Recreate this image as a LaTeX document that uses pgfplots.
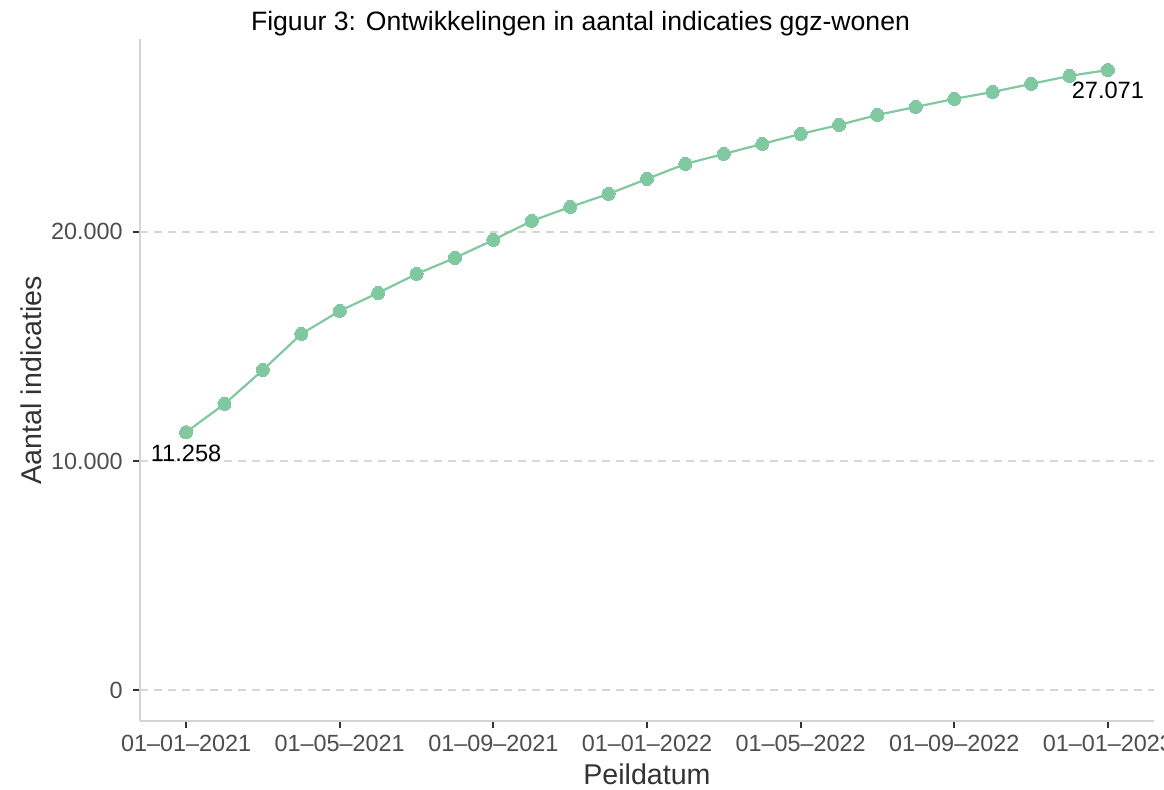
\documentclass[border=0pt]{standalone}
\usepackage{pgfplots}
\pgfplotsset{compat=1.18}
\usepackage{fontspec}
\setmainfont{Liberation Sans}
\definecolor{linegreen}{HTML}{7FC8A0}
\definecolor{axisgray}{HTML}{D4D4D4}
\definecolor{gridgray}{HTML}{D6D6D6}
\definecolor{ticklab}{HTML}{4D4D4D}
\definecolor{labcol}{HTML}{333333}

\pgfplotstableread{
x y
0 11258
1 12489
2 13974
3 15546
4 16550
5 17336
6 18166
7 18865
8 19651
9 20480
10 21092
11 21659
12 22314
13 22969
14 23406
15 23843
16 24279
17 24672
18 25109
19 25459
20 25808
21 26114
22 26463
23 26812
24 27071
}\datatable

\begin{document}
\begin{tikzpicture}
\begin{axis}[
  at={(0,0)}, anchor=south west,
  scale only axis,
  width=507pt, height=341pt,
  xmin=-1.2, xmax=25.2,
  ymin=-1353.55, ymax=28424.55,
  scaled y ticks=false, scaled x ticks=false,
  axis x line*=bottom, axis y line*=left,
  axis line style={axisgray, line width=0.8pt, -},
  tick align=outside,
  major tick length=3.5pt,
  tick style={labcol, line width=1pt},
  xtick={0,4,8,12,16,20,24},
  xticklabels={01–01–2021,01–05–2021,01–09–2021,01–01–2022,01–05–2022,01–09–2022,01–01–2023},
  ytick={0,10000,20000},
  yticklabels={0,10.000,20.000},
  ymajorgrids,
  major grid style={gridgray, line width=0.6pt, dash pattern=on 4pt off 3pt},
  ticklabel style={font=\fontsize{11.7}{14}\selectfont, text=ticklab, inner sep=0pt},
  xticklabel style={yshift=-3.5pt},
  yticklabel style={xshift=-5pt},
  xlabel={Peildatum}, ylabel={Aantal indicaties},
  label style={font=\fontsize{14.3}{17}\selectfont, text=labcol},
  xlabel style={at={(axis description cs:0.5,-0.0924)}, anchor=base},
  ylabel style={at={(axis description cs:-0.1075,0.5)}, anchor=center},
  clip=false,
]
\addplot[linegreen, line width=1.1pt, mark=*, mark size=3.25pt,
  mark options={fill=linegreen, draw=linegreen, line width=0pt}] table[x=x, y=y] {\datatable};
\node[anchor=north, inner sep=0pt, font=\fontsize{11.8}{14}\selectfont, yshift=-6pt] at (axis cs:0,11258) {11.258};
\node[anchor=north, inner sep=0pt, font=\fontsize{11.8}{14}\selectfont, yshift=-6pt] at (axis cs:24,27071) {27.071};
\end{axis}
\node[anchor=base, inner sep=0pt, font=\fontsize{13.3}{16}\selectfont] at (220.25pt,345pt) {Figuur 3: Ontwikkelingen in aantal indicaties ggz-wonen};
\pgfresetboundingbox
\path (-70pt,-34pt) rectangle (512pt,360.5pt);
\end{tikzpicture}
\end{document}
